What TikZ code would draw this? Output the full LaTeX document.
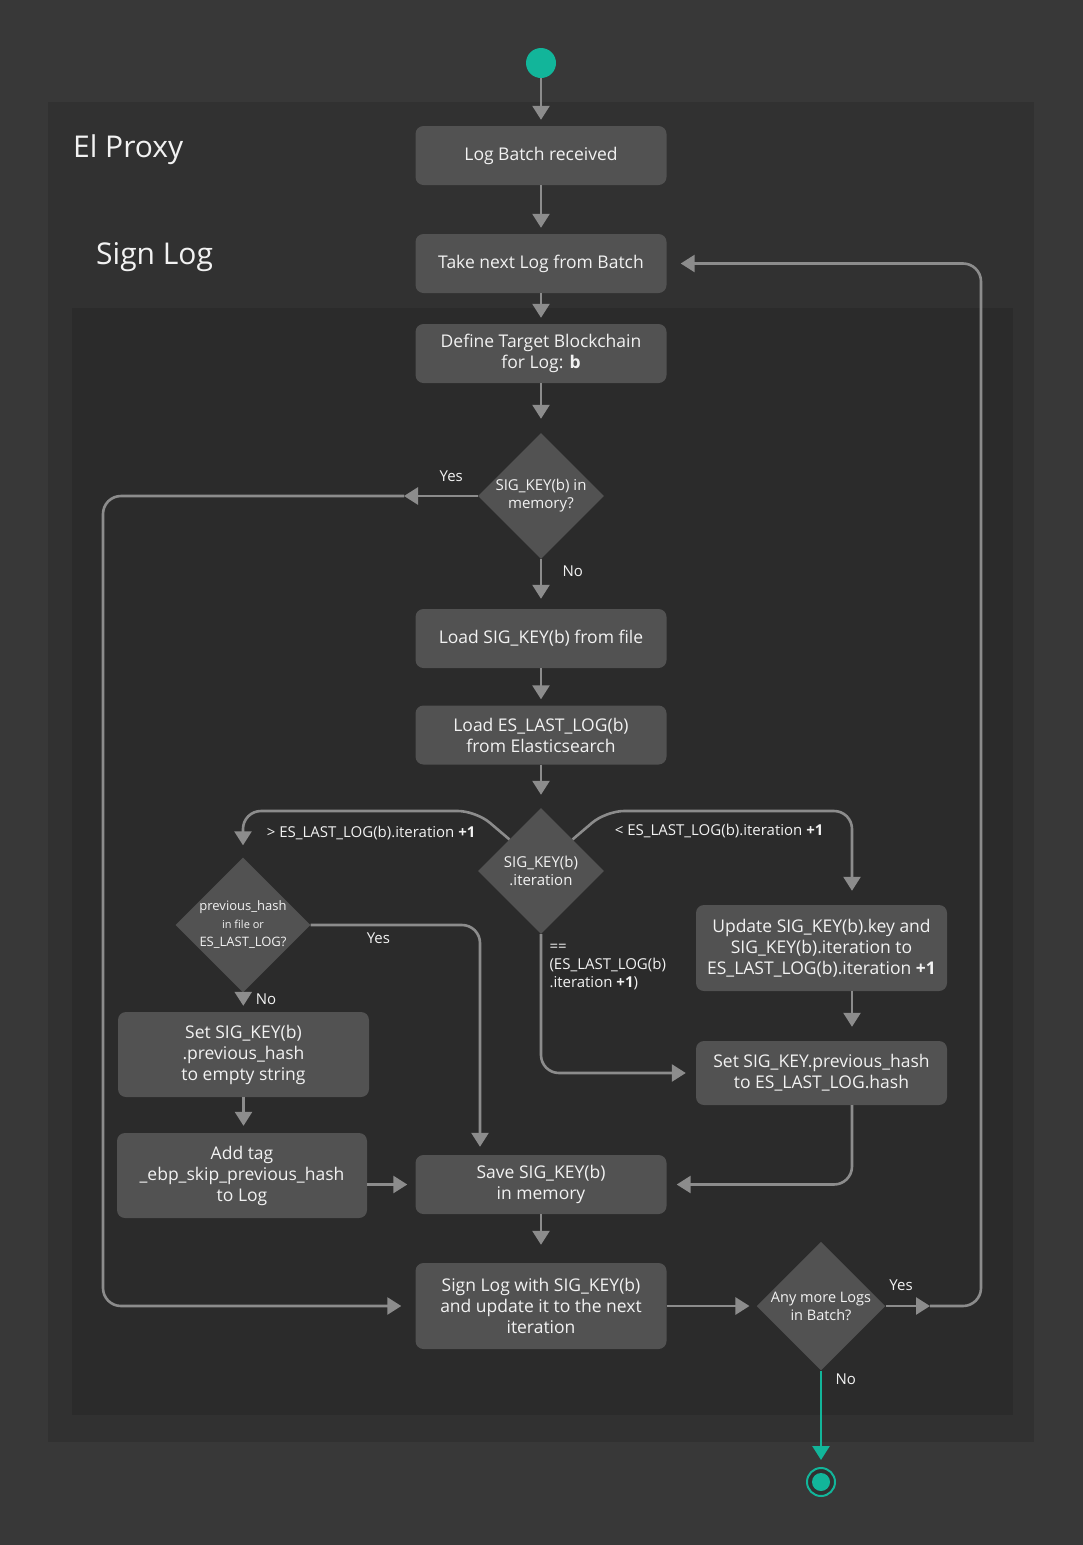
\documentclass[tikz,border=0pt]{standalone}
\usepackage{fontspec}
\setmainfont{Open Sans}
\usetikzlibrary{arrows.meta,shapes.geometric}

\definecolor{pagebg}{HTML}{383838}
\definecolor{proxybg}{HTML}{313131}
\definecolor{signbg}{HTML}{2B2B2B}
\definecolor{boxfill}{HTML}{525252}
\definecolor{linegray}{HTML}{8C8C8C}
\definecolor{startteal}{HTML}{12B59A}
\definecolor{txt}{HTML}{F2F2F2}

\begin{document}
\begin{tikzpicture}[
  x=1pt,y=-1pt,
  >={Triangle[length=14pt,width=17pt]},
  every node/.style={text=txt,align=center},
  flow/.style={->,draw=linegray,line width=2.6pt,shorten >=7pt,rounded corners=18pt},
  stepbox/.style={fill=boxfill,rounded corners=8pt,minimum width=251pt,minimum height=59pt,
                  inner sep=4pt,font=\fontsize{17.5}{21}\selectfont},
  decision/.style={diamond,fill=boxfill,aspect=1,minimum size=126pt,inner sep=0pt,
                   font=\fontsize{14.5}{18}\selectfont},
  lbl/.style={font=\fontsize{15}{18}\selectfont},
  title/.style={font=\fontsize{30}{34}\selectfont,anchor=base west,inner sep=0pt}
]
  % frames
  \useasboundingbox (0,0) rectangle (1083,1545);
  \fill[pagebg] (0,0) rectangle (1083,1545);
  \fill[proxybg] (48,102) rectangle (1034,1442);
  \fill[signbg] (72,308) rectangle (1013,1415);
  \node[title] (proxytitle) at (73,157) {El Proxy};
  \node[title] (signtitle) at (96,264) {Sign Log};

  % main column
  \node[circle,fill=startteal,minimum size=30pt,inner sep=0pt] (start) at (541,63) {};
  \node[stepbox] (batch) at (541,155.5) {Log Batch received};
  \node[stepbox] (nextlog) at (541,263.5) {Take next Log from Batch};
  \node[stepbox] (target) at (541,353.5) {Define Target Blockchain\\for Log: \textbf{b}};
  \node[decision,font=\fontsize{15}{18}\selectfont] (inmem) at (541,496) {SIG\_KEY(b) in\\memory?};
  \node[stepbox] (loadkey) at (541,638.5) {Load SIG\_KEY(b) from file};
  \node[stepbox] (loades) at (541,735) {Load ES\_LAST\_LOG(b)\\from Elasticsearch};
  \node[decision,font=\fontsize{15}{18}\selectfont] (iter) at (541,871) {SIG\_KEY(b)\\.iteration};
  \node[stepbox] (savekey) at (541,1184.5) {Save SIG\_KEY(b)\\in memory};
  \node[stepbox,minimum height=86pt] (signlog) at (541,1306)
    {Sign Log with SIG\_KEY(b)\\and update it to the next\\iteration};

  % left column
  \node[decision,font=\fontsize{13}{18}\selectfont] (prevhash) at (243,925)
    {previous\_hash\\{\fontsize{11}{14}\selectfont in file or}\\ES\_LAST\_LOG?};
  \node[stepbox,minimum height=85pt] (emptyhash) at (243.5,1054.5)
    {Set SIG\_KEY(b)\\.previous\_hash\\to empty string};
  \node[stepbox,minimum height=85pt,minimum width=250pt] (addtag) at (242,1175.5)
    {Add tag\\\_ebp\_skip\_previous\_hash\\to Log};

  % right column
  \node[stepbox,minimum height=86pt] (updkey) at (821.5,948)
    {Update SIG\_KEY(b).key and\\SIG\_KEY(b).iteration to\\ES\_LAST\_LOG(b).iteration \textbf{+1}};
  \node[stepbox,minimum height=64pt] (sethash) at (821.5,1073)
    {Set SIG\_KEY.previous\_hash\\to ES\_LAST\_LOG.hash};
  \node[decision] (morelogs) at (821,1306) {Any more Logs\\in Batch?};
  \node[circle,draw=startteal,line width=2pt,fill=proxybg,minimum size=28pt,inner sep=0pt] (stop) at (821,1482) {};
  \fill[startteal] (stop.center) circle (9pt);

  \coordinate (yesleft) at (404,496);
  \coordinate (yesright) at (930,1306);

  % connectors
  \draw[flow,shorten >=6pt] (start) -- (batch);
  \draw[flow,shorten >=6pt] (batch) -- (nextlog);
  \draw[flow,shorten >=6pt] (nextlog) -- (target);
  \draw[flow,shorten >=14pt] (target) -- (inmem);
  \draw[flow,shorten >=10pt] (inmem) -- node[lbl,right=17pt,pos=0.24] (nolbl1) {No} (loadkey);
  \draw[flow,shorten >=0pt] (inmem.west) -- node[lbl,above=10pt,pos=0.36] (yeslbl1) {Yes} (yesleft);
  \draw[flow,shorten >=14pt] (yesleft) -- ++(-301,0) |- (signlog);
  \draw[flow,shorten >=6pt] (loadkey) -- (loades);
  \draw[flow,shorten >=13pt] (loades) -- (iter);
  \draw[flow,shorten >=12pt] (iter.north west) -- (476,811)
    -- node[lbl,below=10pt,pos=0.45] (gtlbl) {> ES\_LAST\_LOG(b).iteration \textbf{+1}} (243,811)
    -- (prevhash.north);
  \draw[flow,shorten >=14pt] (iter.north east) -- (606,811)
    -- node[lbl,below=8pt,pos=0.46] (ltlbl) {< ES\_LAST\_LOG(b).iteration \textbf{+1}} (852,811)
    -- ([xshift=30.5pt]updkey.north);
  \draw[flow,shorten >=10pt] (iter.south) |- (sethash.west);
  \node[lbl,align=left,anchor=north west] (eqlbl) at (546,941)
    {==\\(ES\_LAST\_LOG(b)\\.iteration \textbf{+1})};
  \draw[flow,shorten >=8pt] (prevhash.east) -| node[lbl,below=3pt,pos=0.2] (yeslbl2) {Yes}
    ([xshift=-61pt]savekey.north);
  \draw[flow,shorten >=6pt] (prevhash) -- node[lbl,right=8pt,pos=0.33] (nolbl2) {No} (emptyhash);
  \draw[flow] (emptyhash.south) -- (emptyhash.south |- addtag.north);
  \draw[flow,shorten >=8pt] (addtag.east |- savekey.west) -- (savekey.west);
  \draw[flow,shorten >=14pt] ([xshift=30.5pt]updkey.south) -- ([xshift=30.5pt]sethash.north);
  \draw[flow,shorten >=10pt] ([xshift=30.5pt]sethash.south) |- (savekey.east);
  \draw[flow,shorten >=18pt] (savekey) -- (signlog);
  \draw[flow] (signlog) -- (morelogs);
  \draw[flow,shorten >=0pt] (morelogs) -- node[lbl,above=11pt,pos=0.35] (yeslbl3) {Yes} (yesright);
  \draw[flow,shorten >=14pt] (yesright) -- ++(51,0) |- (nextlog.east);
  \draw[flow,draw=startteal] (morelogs) -- node[lbl,right=10pt,pos=0.09] (nolbl3) {No} (stop);
\end{tikzpicture}
\end{document}
